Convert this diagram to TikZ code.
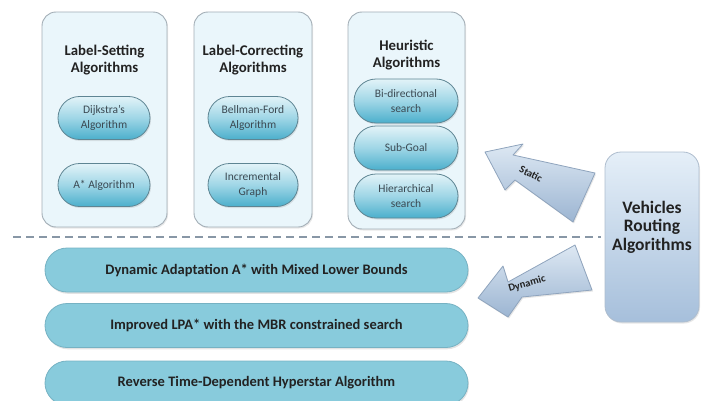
\documentclass[tikz,border=0pt]{standalone}
\usepackage{fontspec}
\setmainfont{Carlito}
\usetikzlibrary{shapes.misc,shadows}
\definecolor{groupfill}{HTML}{EAF6FB}
\definecolor{groupline}{HTML}{A3AEB6}
\definecolor{pilltop}{HTML}{E2F3F8}
\definecolor{pillmid}{HTML}{9FD6E6}
\definecolor{pillbot}{HTML}{4BAFCC}
\definecolor{pillline}{HTML}{5E8593}
\definecolor{pilltext}{HTML}{3B4952}
\definecolor{barfill}{HTML}{88CBDC}
\definecolor{barline}{HTML}{76B2C3}
\definecolor{arrtop}{HTML}{DDE8F3}
\definecolor{arrbot}{HTML}{9CB5D2}
\definecolor{arrline}{HTML}{8FA4BD}
\definecolor{vtop}{HTML}{E5EFF8}
\definecolor{vbot}{HTML}{A6BFDB}
\definecolor{vline}{HTML}{AEBDCE}
\definecolor{dashcol}{HTML}{8897A6}
\definecolor{darktext}{HTML}{222222}
\tikzset{
  group/.style={rectangle, rounded corners=14pt, draw=groupline, line width=0.9pt,
    fill=groupfill, drop shadow={opacity=0.18, shadow xshift=1pt, shadow yshift=-1.5pt}},
  grouptitle/.style={align=center, text=darktext, font=\fontsize{14.8}{16.5}\selectfont\bfseries},
  smallpill/.style={rounded rectangle, minimum height=43pt, inner sep=0pt, draw=pillline,
    line width=0.8pt, top color=pilltop, bottom color=pillbot, middle color=pillmid,
    align=center, text=pilltext, font=\fontsize{11.5}{14.5}\selectfont,
    drop shadow={opacity=0.2, shadow xshift=1pt, shadow yshift=-1.5pt}},
  barpill/.style={rounded rectangle, minimum width=423pt, minimum height=44pt, inner sep=0pt,
    draw=barline, line width=0.8pt, fill=barfill, text=darktext,
    font=\fontsize{14.5}{16}\selectfont\bfseries,
    drop shadow={opacity=0.22, shadow xshift=1pt, shadow yshift=-1.8pt}},
  vbox/.style={rectangle, rounded corners=16pt, minimum width=94pt, minimum height=170pt,
    draw=vline, line width=0.8pt, top color=vtop, bottom color=vbot,
    drop shadow={opacity=0.2, shadow xshift=1pt, shadow yshift=-1.5pt}},
  vtext/.style={align=center, text=darktext, font=\fontsize{17.5}{18.5}\selectfont\bfseries},
  blockarrow/.style={draw=arrline, line width=0.8pt, top color=arrtop, bottom color=arrbot,
    line join=round, drop shadow={opacity=0.2, shadow xshift=1pt, shadow yshift=-1.5pt}},
  arrtext/.style={text=darktext, inner sep=1pt, font=\fontsize{10.5}{12}\selectfont\bfseries},
  dashline/.style={draw=dashcol, line width=1.4pt, dash pattern=on 8pt off 5pt}
}
\begin{document}
\begin{tikzpicture}[x=1pt,y=1pt]
\useasboundingbox (0,0) rectangle (701,400);
\begin{scope}
\clip (0,0) rectangle (701,400);
% group boxes
\node[group, minimum width=125pt, minimum height=215pt] (g1) at (104.5,280.5) {};
\node[group, minimum width=118pt, minimum height=215pt] (g2) at (253,280.5) {};
\node[group, minimum width=117pt, minimum height=217pt] (g3) at (406.5,279.5) {};
\node[grouptitle] (t1) at (104.5,340) {Label-Setting\\Algorithms};
\node[grouptitle] (t2) at (253,340) {Label-Correcting\\Algorithms};
\node[grouptitle] (t3) at (406.5,345) {Heuristic\\Algorithms};
% small pills
\node[smallpill, minimum width=92pt] (p11) at (104,282) {Dijkstra's\\Algorithm};
\node[smallpill, minimum width=92pt] (p12) at (104,215) {A* Algorithm};
\node[smallpill, minimum width=90pt] (p21) at (253,282) {Bellman-Ford\\Algorithm};
\node[smallpill, minimum width=90pt] (p22) at (253,215) {Incremental\\Graph};
\node[smallpill, minimum width=104pt, minimum height=44pt] (p31) at (406,299) {Bi-directional\\search};
\node[smallpill, minimum width=104pt, minimum height=44pt] (p32) at (406,252) {Sub-Goal};
\node[smallpill, minimum width=104pt, minimum height=44pt] (p33) at (406,204) {Hierarchical\\search};
% vehicles box
\node[vbox] (vra) at (652,163) {};
\node[vtext] (vt) at (652,173) {Vehicles\\Routing\\Algorithms};
% dashed separator
\coordinate (dl) at (13,163);
\draw[dashline] (dl) -- ([xshift=-4pt]dl -| vra.west);
% bottom bars
\node[barpill] (b1) at (256.5,130) {Dynamic Adaptation A* with Mixed Lower Bounds};
\node[barpill] (b2) at (256.5,74.5) {Improved LPA* with the MBR constrained search};
\node[barpill] (b3) at (256.5,17) {Reverse Time-Dependent Hyperstar Algorithm};
% static arrow
\path[blockarrow] (485,248) -- (523,256) -- (513,245) -- (595,227) -- (573,178) -- (515,220) -- (505,210) -- cycle;
\node[arrtext, rotate=-27] (st) at (531,226) {Static};
% dynamic arrow
\path[blockarrow] (478,102) -- (503,134) -- (508,118) -- (575,155) -- (592,110) -- (522,103) -- (508,83) -- cycle;
\node[arrtext, rotate=16] (dy) at (527,116) {Dynamic};
\end{scope}
\end{tikzpicture}
\end{document}
